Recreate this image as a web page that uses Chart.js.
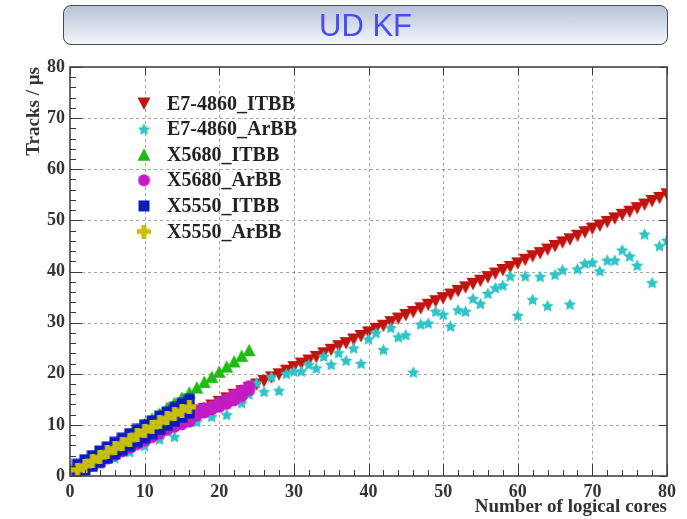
<!DOCTYPE html>
<html>
<head>
<meta charset="utf-8">
<script src="https://cdn.jsdelivr.net/npm/chart.js@4.4.1/dist/chart.umd.min.js"></script>
<style>
  html, body { margin: 0; padding: 0; background: #fff; }
  #wrap { position: relative; width: 687px; height: 519px; }
  #wrap canvas { position: absolute; left: 0; top: 0; }
  #title {
    position: absolute; left: 63px; top: 5px; width: 603px; height: 38px;
    border: 1.5px solid #4a4a4a; border-radius: 8px;
    background: linear-gradient(#b6c3d8, #f4f6fa);
    text-align: center; font-family: 'Liberation Sans', Arial, sans-serif;
    font-size: 31px; line-height: 39px; color: #4a4cf0;
  }
</style>
</head>
<body>
<div id="wrap">
  <canvas id="chart" width="687" height="519"></canvas>
  <div id="title">UD KF</div>
</div>
<script>
// series (x = logical cores, y = tracks / us)
const e7ItbbX = [1,2,3,4,5,6,7,8,9,10,11,12,13,14,15,16,17,18,19,20,21,22,23,24,25,26,27,28,29,30,
  31,32,33,34,35,36,37,38,39,40,41,42,43,44,45,46,47,48,49,50,51,52,53,54,55,56,57,58,59,60,
  61,62,63,64,65,66,67,68,69,70,71,72,73,74,75,76,77,78,79,80];
const e7ItbbY = [0.8,1.6,2.4,3.2,3.9,4.7,5.4,6.1,6.9,7.6,8.3,9.0,9.7,10.4,11.0,11.7,12.4,13.1,13.8,14.5,
  15.2,15.9,16.6,17.2,17.9,18.6,19.3,19.9,20.6,21.3,22.0,22.6,23.3,24.0,24.7,25.4,26.0,26.7,27.4,28.1,
  28.8,29.4,30.1,30.8,31.5,32.1,32.8,33.5,34.2,34.8,35.5,36.2,36.9,37.6,38.2,38.9,39.6,40.3,40.9,41.6,
  42.3,43.0,43.6,44.3,45.0,45.7,46.3,47.0,47.7,48.4,49.0,49.7,50.4,51.1,51.7,52.4,53.1,53.8,54.4,55.1];

const e7ArbbX = [1,2,4,6,8,10,12,14,17,19,21,23,24,25,26,27,28,29,30,31,32,33,34,35,36,37,38,39,40,
  41,42,43,44,45,46,47,48,49,50,51,52,53,54,55,56,57,58,59,60,61,62,63,64,65,66,67,68,69,70,
  71,72,73,74,75,76,77,78,79,80];
const e7ArbbY = [0.6,1.2,2.4,3.5,4.7,5.9,7.2,7.7,10.6,11.6,12.0,14.3,16.0,18.2,16.5,19.4,16.7,20.0,20.5,
  20.5,21.8,21.1,23.4,21.8,24.1,22.6,25.0,22.0,26.8,28.0,24.7,29.0,27.2,27.6,20.3,29.7,29.9,32.2,31.6,
  29.3,32.5,32.2,34.7,33.7,35.7,36.8,37.3,39.1,31.4,39.1,34.5,39.0,33.3,39.4,40.3,33.6,40.5,41.6,41.8,
  40.1,42.2,42.2,44.2,43.0,41.2,47.3,37.8,45.0,46.1];

const x5680ItbbX = [1,2,3,4,5,6,7,8,9,10,11,12,13,14,15,16,17,18,19,20,21,22,23,24];
const x5680ItbbY = [1.0,2.0,3.1,4.1,5.1,6.1,7.1,8.2,9.2,10.2,11.2,12.2,13.3,14.3,15.3,16.3,17.3,18.4,19.4,20.4,21.4,22.4,23.5,24.6];

const x5680ArbbX = [1,2,3,4,5,6,7,8,9,10,11,12,13,14,15,16,17,18,19,20,21,22,23,24,17,18,19,20,21,22,23,24];
const x5680ArbbY = [0.6,1.3,2.0,2.7,3.4,4.1,4.8,5.5,6.2,6.9,7.6,8.3,9.0,9.6,10.1,10.6,11.8,12.4,13.0,13.5,14.1,14.8,15.6,16.8,
  12.9,13.3,13.6,14.3,15.0,15.8,16.7,17.6];

const x5550ItbbX = [1,2,3,4,5,6,7,8,9,10,11,12,13,14,15,16,1,2,3,4,5,6,7,8,9,10,11,12,13,14,15,16];
const x5550ItbbY = [2.3,3.2,4.0,4.9,5.7,6.6,7.4,8.3,9.1,10.0,10.8,11.7,12.5,13.4,14.2,15.0,
  0.3,1.1,1.9,2.7,3.5,4.3,5.1,5.9,6.7,7.5,8.3,9.1,9.9,10.7,11.5,12.3];

const x5550ArbbX = [1,2,3,4,5,6,7,8,9,10,11,12,13,14,15,16];
const x5550ArbbY = [1.2,2.0,2.9,3.7,4.6,5.4,6.3,7.1,8.0,8.8,9.6,10.5,11.3,12.1,12.8,13.5];

const labels = ['E7-4860_ITBB', 'E7-4860_ArBB', 'X5680_ITBB', 'X5680_ArBB', 'X5550_ITBB', 'X5550_ArBB'];
const axisTicks = [0, 10, 20, 30, 40, 50, 60, 70, 80];

// ROOT-like filled markers
function marker(kind, color, s) {
  const c = document.createElement('canvas');
  c.width = s; c.height = s;
  const g = c.getContext('2d');
  const m = s / 2;
  g.fillStyle = color;
  g.beginPath();
  if (kind === 'down') {
    g.moveTo(0.5, 1); g.lineTo(s - 0.5, 1); g.lineTo(m, s - 0.5);
  } else if (kind === 'up') {
    g.moveTo(0.5, s - 1); g.lineTo(s - 0.5, s - 1); g.lineTo(m, 0.5);
  } else if (kind === 'circle') {
    g.arc(m, m, m - 0.5, 0, Math.PI * 2);
  } else if (kind === 'square') {
    g.rect(0.5, 0.5, s - 1, s - 1);
  } else if (kind === 'star') {
    for (let i = 0; i < 10; i++) {
      const r = i % 2 ? m * 0.5 : m;
      const a = -Math.PI / 2 + i * Math.PI / 5;
      const px = m + r * Math.cos(a), py = m + 0.6 + r * Math.sin(a);
      if (i === 0) g.moveTo(px, py); else g.lineTo(px, py);
    }
  } else if (kind === 'cross') {
    const w = s * 0.18, a = m - w, b = m + w;
    g.moveTo(a, 0); g.lineTo(b, 0); g.lineTo(b, a); g.lineTo(s, a); g.lineTo(s, b); g.lineTo(b, b);
    g.lineTo(b, s); g.lineTo(a, s); g.lineTo(a, b); g.lineTo(0, b); g.lineTo(0, a); g.lineTo(a, a);
  }
  g.closePath();
  g.fill();
  return c;
}

const markers = [
  marker('down', '#c0140f', 14),
  marker('star', '#2ec3c6', 13),
  marker('up', '#1ebc12', 14),
  marker('circle', '#c21cc2', 13),
  marker('square', '#0c1cbc', 12),
  marker('cross', '#c7bf0a', 14)
];

function pts(xs, ys) {
  return xs.map((x, i) => ({ x: x, y: ys[i] }));
}

const serif = "'Liberation Serif', 'Times New Roman', serif";

const rootFrame = {
  id: 'rootFrame',
  beforeDatasetsDraw(chart) {
    const { ctx, chartArea: a, scales: { x, y } } = chart;
    ctx.save();
    ctx.strokeStyle = 'rgba(0,0,0,0.35)';
    ctx.lineWidth = 1;
    ctx.setLineDash([3, 3]);
    axisTicks.forEach(v => {
      if (v === 0 || v === 80) return;
      const px = Math.round(x.getPixelForValue(v)) + 0.5;
      ctx.beginPath(); ctx.moveTo(px, a.top); ctx.lineTo(px, a.bottom); ctx.stroke();
      const py = Math.round(y.getPixelForValue(v)) + 0.5;
      ctx.beginPath(); ctx.moveTo(a.left, py); ctx.lineTo(a.right, py); ctx.stroke();
    });
    ctx.restore();
  },
  afterDatasetsDraw(chart) {
    const { ctx, chartArea: a, scales: { x, y } } = chart;
    ctx.save();
    ctx.strokeStyle = '#3a3a3a';
    ctx.lineWidth = 1;
    for (let v = 0; v <= 80; v += 2) {
      const len = v % 10 === 0 ? 12 : 6;
      const px = Math.round(x.getPixelForValue(v)) + 0.5;
      ctx.beginPath(); ctx.moveTo(px, a.bottom); ctx.lineTo(px, a.bottom - len); ctx.stroke();
      const py = Math.round(y.getPixelForValue(v)) + 0.5;
      ctx.beginPath(); ctx.moveTo(a.left, py); ctx.lineTo(a.left + len, py); ctx.stroke();
      if (v % 10 === 0) {
        ctx.beginPath(); ctx.moveTo(px, a.top); ctx.lineTo(px, a.top + 8); ctx.stroke();
        ctx.beginPath(); ctx.moveTo(a.right, py); ctx.lineTo(a.right - 8, py); ctx.stroke();
      }
    }
    ctx.lineWidth = 1.6;
    ctx.strokeStyle = '#444';
    ctx.strokeRect(a.left, a.top, a.right - a.left, a.bottom - a.top);

    // legend
    ctx.font = 'bold 20px ' + serif;
    ctx.fillStyle = '#222';
    ctx.textBaseline = 'middle';
    labels.forEach((t, i) => {
      const ly = 103.5 + i * 25.6;
      const m = markers[i];
      ctx.drawImage(m, 144 - m.width / 2, ly - m.height / 2);
      ctx.fillText(t, 167, ly + 1);
    });
    ctx.restore();
  }
};

const seriesX = [e7ItbbX, e7ArbbX, x5680ItbbX, x5680ArbbX, x5550ItbbX, x5550ArbbX];
const seriesY = [e7ItbbY, e7ArbbY, x5680ItbbY, x5680ArbbY, x5550ItbbY, x5550ArbbY];

new Chart(document.getElementById('chart'), {
  type: 'scatter',
  data: {
    datasets: labels.map((lab, i) => ({
      label: lab,
      data: pts(seriesX[i], seriesY[i]),
      pointStyle: markers[i],
      pointRadius: 7,
      showLine: false,
      order: 6 - i
    }))
  },
  options: {
    responsive: false,
    animation: false,
    events: [],
    layout: { padding: { top: 67, right: 20, left: 0, bottom: 0 } },
    plugins: { legend: { display: false }, tooltip: { enabled: false } },
    scales: {
      x: {
        type: 'linear', min: 0, max: 80,
        grid: { display: false, drawTicks: false },
        border: { display: false },
        ticks: { stepSize: 10, padding: 6, color: '#333', font: { family: serif, weight: 'bold', size: 18 } },
        title: { display: true, text: 'Number of logical cores', align: 'end', color: '#333',
          padding: { top: 0, bottom: 1 }, font: { family: serif, weight: 'bold', size: 19 } },
        afterFit(s) { s.height = 43; }
      },
      y: {
        type: 'linear', min: 0, max: 80,
        grid: { display: false, drawTicks: false },
        border: { display: false },
        ticks: { stepSize: 10, padding: 5, color: '#333', font: { family: serif, weight: 'bold', size: 18 } },
        title: { display: true, text: 'Tracks / µs', align: 'end', color: '#333',
          padding: { top: 23, bottom: 0 }, font: { family: serif, weight: 'bold', size: 19 } },
        afterFit(s) { s.width = 70; }
      }
    }
  },
  plugins: [rootFrame]
});
</script>
</body>
</html>
